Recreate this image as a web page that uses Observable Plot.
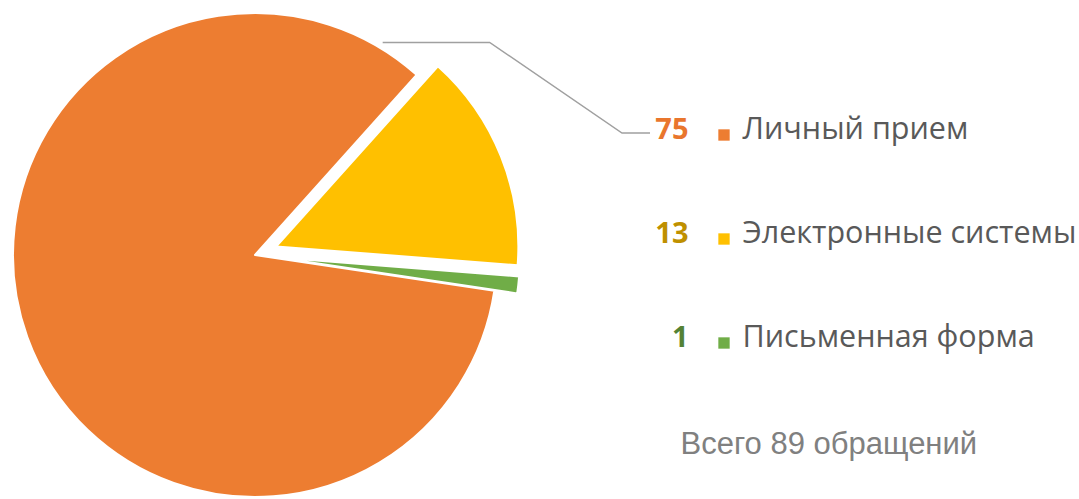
<!DOCTYPE html>
<html><head><meta charset="utf-8">
<script src="https://cdn.jsdelivr.net/npm/d3@7"></script>
<script src="https://cdn.jsdelivr.net/npm/@observablehq/plot@0.6"></script>
<style>html,body{margin:0;padding:0;background:#fff;overflow:hidden}</style>
</head><body><div id="chart"></div><script>
// ---- data ----
const categories = ["Личный прием", "Электронные системы", "Письменная форма"];
const values = [75, 13, 1];
const sliceColors = ["#ED7D31", "#FFC000", "#70AD47"];
const labelColors = ["#E9762D", "#BF9000", "#548235"];
const totalText = n => `Всего ${n} обращений`;

// ---- layout / style ----
const W = 1079, H = 499;
const CX = 255, CY = 255, R = 242;
const explode = [0, 23, 23];
const startDeg = 98.5;
const rowRange = [128, 337];

const data = categories.map((c, i) => ({category: c, value: values[i], color: sliceColors[i], labelColor: labelColors[i]}));
const rowY = d3.scalePoint().domain(categories).range(rowRange).padding(0);

const pieMark = () => {
  const g = d3.create("svg:g");
  const start = startDeg * Math.PI / 180;
  const arcs = d3.pie().sort(null).value(d => d.value).startAngle(start).endAngle(start + 2 * Math.PI)(data);
  const arc = d3.arc().innerRadius(0).outerRadius(R);
  arcs.forEach((a, i) => {
    const mid = (a.startAngle + a.endAngle) / 2;
    const dx = explode[i] * Math.sin(mid), dy = -explode[i] * Math.cos(mid);
    g.append("path").attr("d", arc(a))
      .attr("transform", `translate(${CX + dx},${CY + dy})`)
      .attr("fill", a.data.color).attr("stroke", "#fff")
      .attr("stroke-width", 2).attr("stroke-linejoin", "round");
  });
  // leader line for the first (largest) slice label
  const a0 = arcs[0].endAngle - 0.19;
  const sx = CX + (R + 6) * Math.sin(a0), sy = CY - (R + 6) * Math.cos(a0);
  const ey = rowY(categories[0]) + 5;
  const ex = 650;
  g.append("path")
    .attr("d", `M${sx},${sy}H${sx + 107}L${ex - 28},${ey}H${ex}`)
    .attr("fill", "none").attr("stroke", "#A0A0A0").attr("stroke-width", 1.5);
  return g.node();
};

const chart = Plot.plot({
  width: W, height: H, margin: 0,
  x: {domain: [0, W], range: [0, W], axis: null},
  y: {type: "point", domain: categories, range: rowRange, padding: 0, axis: null},
  color: {type: "identity"},
  marks: [
    pieMark,
    Plot.text(data, {y: "category", text: d => String(d.value), frameAnchor: "left", dx: 688, textAnchor: "end",
      fill: "labelColor", fontSize: 29, fontWeight: "bold", fontFamily: "Open Sans"}),
    Plot.dot(data, {y: "category", frameAnchor: "left", dx: 723.5, dy: 5.5, symbol: "square", r: 6.4, fill: "color", stroke: null}),
    Plot.text(data, {y: "category", text: "category", frameAnchor: "left", dx: 742, textAnchor: "start",
      fill: "#595959", fontSize: 30.5, fontFamily: "Open Sans"}),
    Plot.text([totalText(d3.sum(values))], {text: d => d, frameAnchor: "top-left", dx: 680, dy: 444, textAnchor: "start",
      lineAnchor: "middle", fill: "#808080", fontSize: 31, fontFamily: "Liberation Sans"})
  ]
});
document.getElementById("chart").appendChild(chart);
</script></body></html>
